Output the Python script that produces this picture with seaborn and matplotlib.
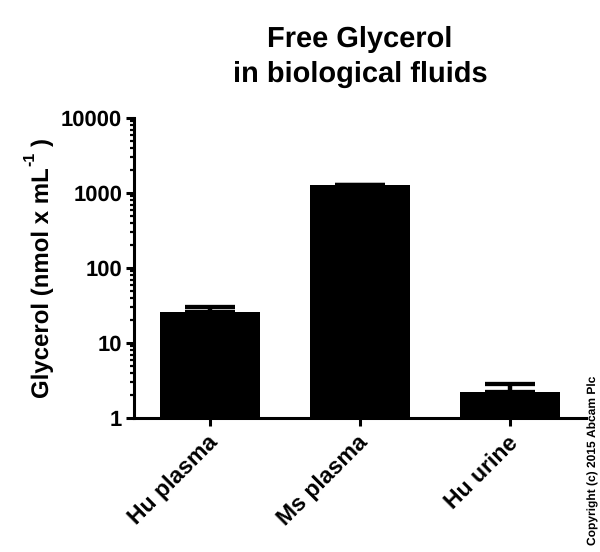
import matplotlib
matplotlib.use('Agg')  # Non-interactive backend
import matplotlib.pyplot as plt
from matplotlib.ticker import LogLocator, NullFormatter
from matplotlib.transforms import ScaledTranslation
import seaborn as sns
import pandas as pd

samples = ['Hu plasma', 'Ms plasma', 'Hu urine']
glycerol = [25.8, 1270, 2.24]
errors = [4.7, 20, 0.6]
y_ticks = [1, 10, 100, 1000, 10000]

sns.set_style('ticks')
plt.rcParams['font.family'] = ['Liberation Sans', 'DejaVu Sans']
plt.rcParams['text.color'] = 'black'
plt.rcParams['text.hinting'] = 'no_hinting'
plt.rcParams['text.hinting_factor'] = 1

data = pd.DataFrame({'sample': samples, 'glycerol': glycerol})

fig = plt.figure(figsize=(6, 5.52), dpi=100)
ax = fig.add_axes([134 / 600, 1 - 418 / 552, (586 - 134) / 600, (418 - 118) / 552])

sns.barplot(data=data, x='sample', y='glycerol', color='black', saturation=1,
            width=0.667, linewidth=0, errorbar=None, ax=ax)
ax.set_yscale('log', nonpositive='clip')

# only the upper half of the error bars, as in the original
ax.errorbar(range(len(samples)), glycerol, yerr=[[0] * 3, errors], fmt='none',
            ecolor='black', elinewidth=3.2, capsize=18, capthick=3.1)

ax.set_xlim(-0.507, 2.507)
ax.set_ylim(1, 10000)
ax.set_yticks(y_ticks)
ax.set_yticklabels([str(t) for t in y_ticks], fontsize=16, fontweight='bold', color='black')
ax.yaxis.set_minor_locator(LogLocator(base=10, subs=range(2, 10), numticks=10))
ax.yaxis.set_minor_formatter(NullFormatter())
ax.set_xticks(range(len(samples)))
ax.set_xticklabels(samples, rotation=45, ha='right', rotation_mode='anchor',
                   fontsize=16.8, fontweight='bold', color='black')
ax.tick_params(axis='both', which='major', width=2.2, length=5.5, color='black', pad=3)
ax.tick_params(axis='y', which='minor', width=1.6, length=3, color='black')
ax.set_xlabel('')
ax.set_ylabel('')

# nudge the rotated labels to where the original has them
shift = ScaledTranslation(-3 / 100, -2 / 100, fig.dpi_scale_trans)
for label in ax.get_xticklabels():
    label.set_transform(label.get_transform() + shift)

for side in ['top', 'right']:
    ax.spines[side].set_visible(False)
for side in ['left', 'bottom']:
    ax.spines[side].set_linewidth(2.2)
    ax.spines[side].set_color('black')

# y label in three pieces so the superscript sits tight against the text
fig.text(54 / 600, 1 - 398 / 552, 'Glycerol (nmol x mL', rotation=90, ha='right', va='bottom',
         fontsize=17.6, fontweight='bold')
fig.text(38 / 600, 1 - 166 / 552, '-1', rotation=90, ha='right', va='bottom',
         fontsize=11.5, fontweight='bold')
fig.text(54 / 600, 1 - 146 / 552, ')', rotation=90, ha='right', va='bottom',
         fontsize=17.6, fontweight='bold')

fig.text(360 / 600, 1 - 57 / 552, 'Free Glycerol\nin biological fluids', ha='center',
         va='center', fontsize=21, fontweight='bold', linespacing=1.4)
fig.text(593 / 600, 1 - 460 / 552, 'Copyright (c) 2015 Abcam Plc', rotation=90,
         ha='center', va='center', fontsize=8.6, fontweight='bold')

fig.savefig('out.png', dpi=100)
